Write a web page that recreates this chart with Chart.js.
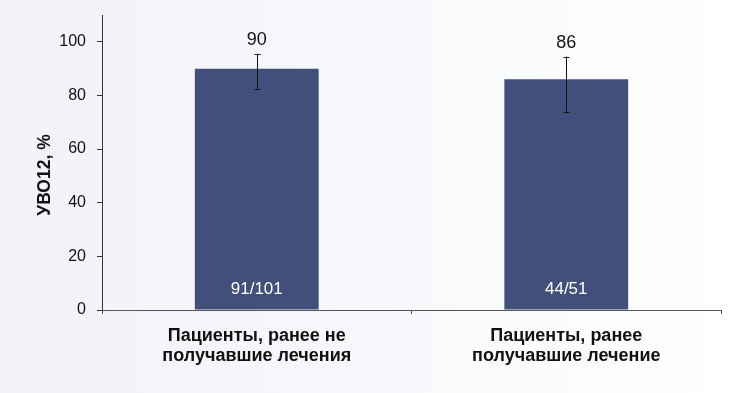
<!DOCTYPE html>
<html>
<head>
<meta charset="utf-8">
<script src="https://cdn.jsdelivr.net/npm/chart.js@4/dist/chart.umd.min.js"></script>
<style>
  html, body { margin: 0; padding: 0; }
  body { width: 735px; height: 393px; background: linear-gradient(to right, #f2f3f8 0%, #f7f8fb 50%, #ffffff 100%); overflow: hidden; }
  #wrap { position: relative; width: 735px; height: 393px; }
</style>
</head>
<body>
<div id="wrap"><canvas id="c" width="735" height="393"></canvas></div>
<script>
const categories = [
  ["Пациенты, ранее не", "получавшие лечения"],
  ["Пациенты, ранее", "получавшие лечение"]
];
const values = [90, 86];
const errLow = [82.5, 74];
const errHigh = [95.5, 94.5];
const counts = ["91/101", "44/51"];
const yTicks = [0, 20, 40, 60, 80, 100];
const yTitle = "УВО12, %";

const FONT = "'Liberation Sans', Arial, sans-serif";

const overlay = {
  id: 'overlay',
  afterDatasetsDraw(chart) {
    const ctx = chart.ctx;
    const y = chart.scales.y;
    const meta = chart.getDatasetMeta(0);
    ctx.save();
    meta.data.forEach((bar, i) => {
      const x = Math.round(bar.x) + 0.5;
      const yh = y.getPixelForValue(errHigh[i]);
      const yl = y.getPixelForValue(errLow[i]);
      ctx.strokeStyle = '#111';
      ctx.lineWidth = 1;
      ctx.beginPath();
      ctx.moveTo(x, yh); ctx.lineTo(x, yl);
      ctx.moveTo(x - 3, Math.round(yh) + 0.5); ctx.lineTo(x + 3, Math.round(yh) + 0.5);
      ctx.moveTo(x - 3, Math.round(yl) + 0.5); ctx.lineTo(x + 3, Math.round(yl) + 0.5);
      ctx.stroke();
      ctx.fillStyle = '#111';
      ctx.font = '18px ' + FONT;
      ctx.textAlign = 'center';
      ctx.textBaseline = 'alphabetic';
      ctx.fillText(String(values[i]), bar.x, yh - 9);
      ctx.fillStyle = '#ffffff';
      ctx.font = '17px ' + FONT;
      ctx.fillText(counts[i], bar.x, y.getPixelForValue(0) - 16);
    });
    ctx.translate(45, 175);
    ctx.rotate(-Math.PI / 2);
    ctx.fillStyle = '#111';
    ctx.font = 'bold 17.5px ' + FONT;
    ctx.textAlign = 'center';
    ctx.textBaseline = 'middle';
    ctx.fillText(yTitle, 0, 0);
    ctx.restore();
  }
};

new Chart(document.getElementById('c'), {
  type: 'bar',
  data: {
    labels: categories,
    datasets: [{
      data: values,
      backgroundColor: '#434f7b',
      borderWidth: 0,
      barPercentage: 0.4,
      categoryPercentage: 1.0
    }]
  },
  options: {
    responsive: false,
    animation: false,
    events: [],
    layout: { padding: { top: 15, right: 14, left: 0, bottom: 0 } },
    plugins: { legend: { display: false }, tooltip: { enabled: false } },
    scales: {
      x: {
        grid: { drawOnChartArea: false, tickLength: 4, tickColor: '#555', offset: true },
        border: { color: '#555', width: 1 },
        ticks: { color: '#111', padding: 12, font: { family: FONT, size: 18, weight: 'bold', lineHeight: 1.12 }, maxRotation: 0, autoSkip: false },
        afterFit(s) { s.height = 83; s.paddingLeft = 0; s.paddingRight = 0; }
      },
      y: {
        min: 0, max: 110,
        grid: { drawOnChartArea: false, tickLength: 5, tickColor: '#333' },
        border: { color: '#333', width: 1 },
        ticks: { stepSize: 20, color: '#111', padding: 11, font: { family: FONT, size: 16 } },
        afterBuildTicks(s) { s.ticks = yTicks.map(v => ({ value: v })); },
        afterFit(s) { s.width = 102; s.paddingTop = 0; s.paddingBottom = 0; }
      }
    }
  },
  plugins: [overlay]
});
</script>
</body>
</html>
